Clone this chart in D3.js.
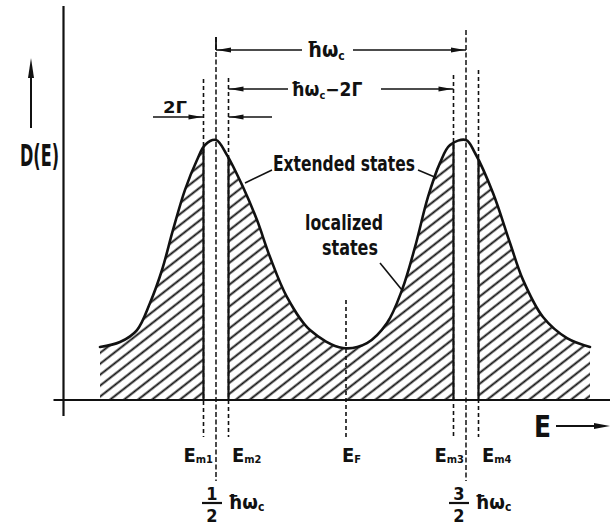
<!DOCTYPE html>
<html>
<head>
<meta charset="utf-8">
<script src="https://cdn.jsdelivr.net/npm/d3@7"></script>
<style>
  html, body { margin: 0; padding: 0; background: #fff; }
  svg { display: block; }
  text { font-family: "DejaVu Sans Condensed", "DejaVu Sans", sans-serif; font-weight: bold; fill: #111; }
</style>
</head>
<body>
<svg id="chart" width="610" height="528"></svg>
<script>
// Density of states D(E) of a 2D electron gas in a quantising magnetic field.
// Energy is measured in units of ħωc, D(E) is normalised to the Landau-level peak.
const energy  = [0.036, 0.116, 0.184, 0.236, 0.284, 0.328, 0.376, 0.424, 0.456, 0.5,
                 0.544, 0.608, 0.664, 0.716, 0.784, 0.876, 1.008,
                 1.104, 1.184, 1.244, 1.296, 1.348, 1.396, 1.436, 1.5,
                 1.536, 1.608, 1.676, 1.728, 1.808, 1.904, 1.996];
const density = [0.204, 0.223, 0.269, 0.373, 0.5, 0.654, 0.808, 0.923, 0.981, 1.0,
                 0.942, 0.819, 0.692, 0.55, 0.396, 0.269, 0.2,
                 0.219, 0.296, 0.423, 0.588, 0.781, 0.912, 0.981, 1.0,
                 0.95, 0.796, 0.604, 0.462, 0.319, 0.238, 0.204];

const landauLevels   = [0.5, 1.5];
const landauNumer    = ["1", "3"];
const landauDenom    = ["2", "2"];
const mobilityEdges  = [0.45, 0.55, 1.45, 1.55];
const edgeSubscripts = ["m1", "m2", "m3", "m4"];
const fermiEnergy    = 1.02;

const svg = d3.select("#chart");
const ink = "#111";

const x = d3.scaleLinear().domain([0, 2]).range([91, 591]);
const y = d3.scaleLinear().domain([0, 1]).range([400, 140]);

const pts = energy.map((e, i) => [e, density[i]]);
const curve = d3.curveCatmullRom.alpha(0.5);

const line = d3.line().x(d => x(d[0])).y(d => y(d[1])).curve(curve);
const area = d3.area().x(d => x(d[0])).y0(y(0)).y1(d => y(d[1])).curve(curve);

// hatched bands: localized states between the mobility edges
const bands = [
  [energy[0], mobilityEdges[0]],
  [mobilityEdges[1], mobilityEdges[2]],
  [mobilityEdges[3], energy[energy.length - 1]]
];

const defs = svg.append("defs");
const pat = defs.append("pattern")
  .attr("id", "hatch")
  .attr("patternUnits", "userSpaceOnUse")
  .attr("width", 12).attr("height", 8.6)
  .attr("patternTransform", "rotate(-38)");
pat.append("line")
  .attr("x1", -1).attr("x2", 13).attr("y1", 4.3).attr("y2", 4.3)
  .attr("stroke", ink).attr("stroke-width", 1.9);

const bandClip = defs.append("clipPath").attr("id", "bands");
bandClip.selectAll("rect").data(bands).join("rect")
  .attr("x", d => x(d[0])).attr("width", d => x(d[1]) - x(d[0]))
  .attr("y", 0).attr("height", y(0) + 1);

defs.append("clipPath").attr("id", "under")
  .append("path").attr("d", area(pts));

svg.append("path")
  .attr("d", area(pts))
  .attr("fill", "url(#hatch)")
  .attr("clip-path", "url(#bands)");

// axes
const axisX0 = -0.15, axisYpos = -0.11;
svg.append("line")
  .attr("x1", x(axisX0)).attr("x2", 610)
  .attr("y1", y(0)).attr("y2", y(0))
  .attr("stroke", ink).attr("stroke-width", 2.2);
svg.append("line")
  .attr("x1", x(axisYpos)).attr("x2", x(axisYpos))
  .attr("y1", y(1.515)).attr("y2", y(-0.062))
  .attr("stroke", ink).attr("stroke-width", 2.2);

function arrowHead(px, py, dir, len = 14, half = 2.4) {
  // dir: "left" | "right" | "up"
  let p;
  if (dir === "right") p = [[px, py], [px - len, py - half], [px - len, py + half]];
  else if (dir === "left") p = [[px, py], [px + len, py - half], [px + len, py + half]];
  else p = [[px, py], [px - half, py + len], [px + half, py + len]];
  svg.append("path").attr("d", d3.line()(p) + "Z").attr("fill", ink);
}

function hline(x1, x2, yy, w = 1.6) {
  svg.append("line").attr("x1", x1).attr("x2", x2).attr("y1", yy).attr("y2", yy)
    .attr("stroke", ink).attr("stroke-width", w);
}
function vdash(xx, y1, y2, w = 1.6, dash = "4,3") {
  svg.append("line").attr("x1", xx).attr("x2", xx).attr("y1", y1).attr("y2", y2)
    .attr("stroke", ink).attr("stroke-width", w).attr("stroke-dasharray", dash);
}

// dashed guides at the mobility edges
const edgeTops = [79, 78, 75, 70];
mobilityEdges.forEach((e, i) => vdash(x(e), edgeTops[i], 437));
// dashed guides at the Landau levels
const levelTops = [37, 30];
landauLevels.forEach((e, i) => vdash(x(e), levelTops[i], 481, 1.5, "5,2.5"));
// Fermi energy
vdash(x(fermiEnergy), 300, 437);

// solid boundaries of the hatched bands
svg.append("g").attr("clip-path", "url(#under)")
  .selectAll("line").data(mobilityEdges).join("line")
  .attr("x1", d => x(d)).attr("x2", d => x(d))
  .attr("y1", y(0)).attr("y2", y(1.1))
  .attr("stroke", ink).attr("stroke-width", 2.2);

// the D(E) curve
svg.append("path")
  .attr("d", line(pts))
  .attr("fill", "none").attr("stroke", ink)
  .attr("stroke-width", 2.6).attr("stroke-linecap", "round");

// ħωc bracket
const L1 = x(landauLevels[0]), L2 = x(landauLevels[1]);
svg.append("line").attr("x1", L1).attr("x2", L1).attr("y1", 37).attr("y2", 50)
  .attr("stroke", ink).attr("stroke-width", 1.8);
hline(L1, 302, 50);
hline(353, L2, 50);
arrowHead(L1 + 1, 50, "left");
arrowHead(L2 - 1, 50, "right");

// ħωc − 2Γ bracket
const M2 = x(mobilityEdges[1]), M3 = x(mobilityEdges[2]);
hline(M2, 288, 89);
hline(381, M3, 89);
arrowHead(M2 + 1, 89, "left");
arrowHead(M3 - 1, 89, "right");

// 2Γ arrows
const M1 = x(mobilityEdges[0]);
hline(153, M1, 117);
arrowHead(M1 - 1, 117, "right");
hline(M2, 272, 117);
arrowHead(M2 + 1, 117, "left");

// text helpers
function txt(xx, yy, size, anchor = "start") {
  return svg.append("text").attr("x", xx).attr("y", yy)
    .attr("font-size", size).attr("text-anchor", anchor);
}

// ħωc label
{
  const t = txt(307, 57, 21);
  t.append("tspan").text("ħω");
  t.append("tspan").attr("font-size", 12).attr("dy", 3).text("c");
}
// ħωc − 2Γ label
{
  const t = txt(291, 96, 19);
  t.append("tspan").text("ħω");
  t.append("tspan").attr("font-size", 11).attr("dy", 3).text("c");
  t.append("tspan").attr("dy", -3).text("−2Γ");
}
// 2Γ label
txt(163, 113, 16).text("2Γ").attr("textLength", 24).attr("lengthAdjust", "spacingAndGlyphs");

// D(E) axis label with arrow
txt(20, 166, 30).text("D(E)").attr("textLength", 39).attr("lengthAdjust", "spacingAndGlyphs");
svg.append("line").attr("x1", 31).attr("x2", 31).attr("y1", 128).attr("y2", 70)
  .attr("stroke", ink).attr("stroke-width", 2);
arrowHead(31, 58, "up", 20, 3);

// E axis label with arrow
txt(534, 437, 31).text("E").attr("textLength", 17).attr("lengthAdjust", "spacingAndGlyphs");
hline(556, 598, 426, 2);
arrowHead(610, 426, "right", 16, 3);

// annotations
txt(273, 171, 21).text("Extended states").attr("textLength", 142).attr("lengthAdjust", "spacingAndGlyphs");
svg.append("line").attr("x1", 272).attr("y1", 170).attr("x2", 245).attr("y2", 183)
  .attr("stroke", ink).attr("stroke-width", 1.6);
svg.append("line").attr("x1", 418).attr("y1", 170).attr("x2", 437).attr("y2", 178)
  .attr("stroke", ink).attr("stroke-width", 1.6);

txt(344, 230, 22, "middle").text("localized").attr("textLength", 78).attr("lengthAdjust", "spacingAndGlyphs");
txt(350, 255, 22, "middle").text("states").attr("textLength", 56).attr("lengthAdjust", "spacingAndGlyphs");
svg.append("line").attr("x1", 380).attr("y1", 263).attr("x2", 402).attr("y2", 290)
  .attr("stroke", ink).attr("stroke-width", 1.6);

// mobility-edge labels
const edgeLabelX = [213, 232, 464, 482];
const edgeAnchor = ["end", "start", "end", "start"];
edgeSubscripts.forEach((s, i) => {
  const t = txt(edgeLabelX[i], 462, 20, edgeAnchor[i]);
  t.append("tspan").text("E");
  t.append("tspan").attr("font-size", 11).attr("dy", 1).text(s);
});
// Fermi energy label
{
  const t = txt(342, 462, 20);
  t.append("tspan").text("E");
  t.append("tspan").attr("font-size", 11).attr("dy", 1).text("F");
}

// Landau-level labels (½ħωc, 3⁄2ħωc)
const fracX = [212, 459];
landauLevels.forEach((e, i) => {
  const fx = fracX[i];
  txt(fx, 500, 18, "middle").text(landauNumer[i]);
  svg.append("line").attr("x1", fx - 10).attr("x2", fx + 10).attr("y1", 503).attr("y2", 503)
    .attr("stroke", ink).attr("stroke-width", 2.2);
  txt(fx, 522, 18, "middle").text(landauDenom[i]);
  const t = txt(fx + 16, 509, 20);
  t.append("tspan").text("ħω");
  t.append("tspan").attr("font-size", 12).attr("dy", 2).text("c");
});
</script>
</body>
</html>
